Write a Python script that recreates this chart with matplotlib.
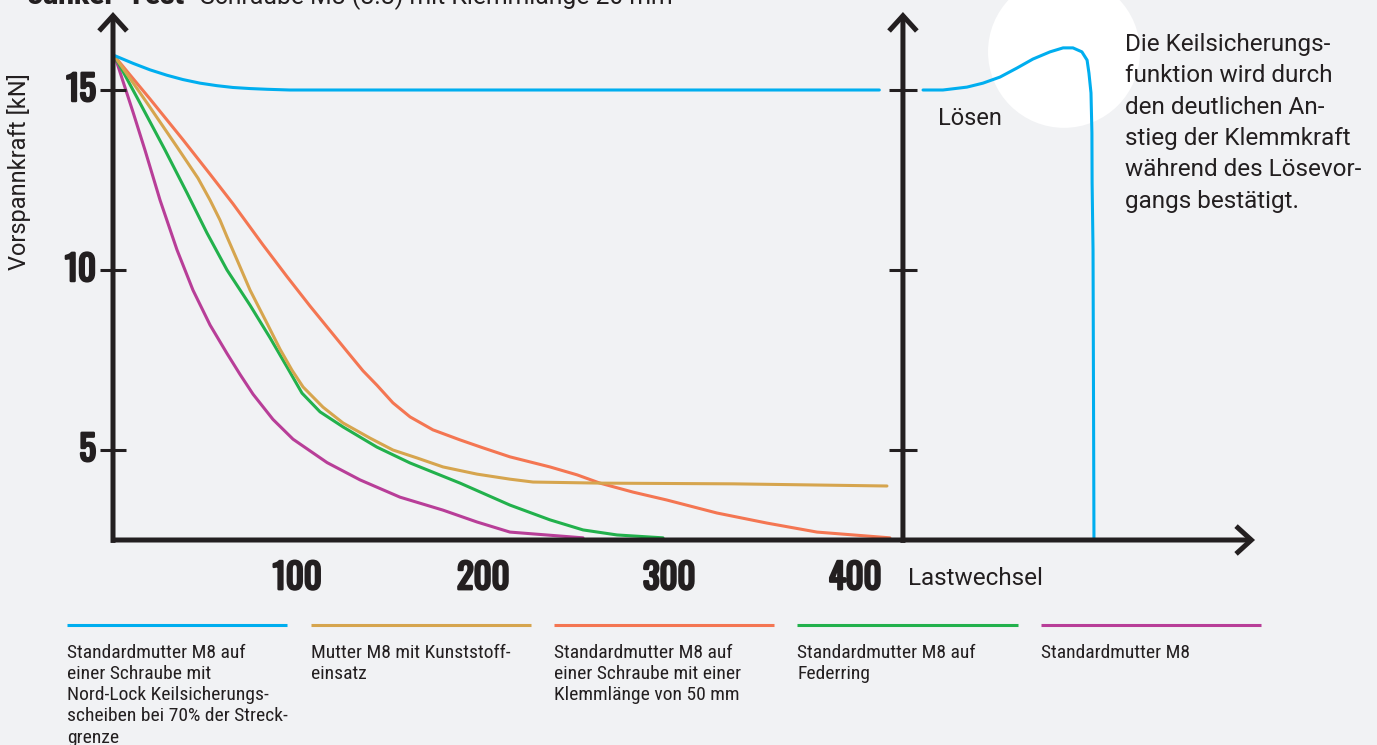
"""Junker-Test: Vorspannkraft über Lastwechsel (Nachbau)."""
import matplotlib
matplotlib.use("Agg")
import matplotlib.pyplot as plt
import matplotlib.patheffects as pe
from matplotlib.patches import Ellipse

# --- data ---
blue_x = [1.1, 10.8, 19.9, 29.0, 37.6, 46.8, 55.9, 64.5, 73.7, 82.8, 95.0, 412]
blue_y = [15.95, 15.74, 15.56, 15.41, 15.29, 15.19, 15.12, 15.07, 15.04, 15.02, 15.0, 15.0]

loosen_x = [435.5, 446.2, 459.1, 467.7, 476.9, 486.0, 494.6, 503.8, 510.8, 516.1,
            520.9, 523.7, 524.7, 525.8, 526.3, 526.4, 526.9, 527.4]
loosen_y = [15.0, 15.0, 15.08, 15.19, 15.36, 15.61, 15.86, 16.06, 16.17, 16.17,
            16.06, 15.83, 15.47, 14.92, 13.81, 12.42, 10.56, 2.5]

gold_x = [1.1, 18.3, 34.4, 45.7, 52.2, 57.5, 61.3, 66.7, 73.7, 82.8, 89.8, 96.2, 102.2,
          112.9, 123.7, 138.2, 150.5, 163.4, 177.4, 195.7, 213.4, 225.8, 261.8, 333.3, 416.1]
gold_y = [15.92, 14.64, 13.42, 12.55, 11.94, 11.39, 10.92, 10.28, 9.44, 8.52, 7.8, 7.22, 6.75,
          6.19, 5.75, 5.33, 5.0, 4.78, 4.53, 4.33, 4.19, 4.11, 4.08, 4.06, 4.0]

coral_x = [1.1, 19.9, 37.6, 52.2, 64.5, 80.6, 93.5, 105.9, 125.8, 134.4, 141.9, 150.5, 159.7,
           172.0, 186.6, 198.9, 213.4, 234.9, 249.5, 261.8, 279.6, 297.8, 324.7, 351.6, 378.5, 417.7]
coral_y = [15.92, 14.75, 13.62, 12.66, 11.84, 10.7, 9.82, 9.0, 7.74, 7.2, 6.8, 6.31, 5.92,
           5.56, 5.28, 5.06, 4.81, 4.53, 4.31, 4.08, 3.83, 3.61, 3.25, 2.97, 2.72, 2.56]

green_x = [1.1, 14.5, 28.0, 39.8, 50.5, 61.3, 73.7, 84.4, 93.5, 101.6, 111.3, 123.7, 141.9,
           159.7, 186.6, 213.4, 234.9, 252.7, 271.0, 295.7]
green_y = [15.92, 14.64, 13.33, 12.14, 11.03, 10.0, 9.02, 8.12, 7.31, 6.58, 6.06, 5.64, 5.08,
           4.64, 4.08, 3.47, 3.06, 2.78, 2.64, 2.56]

magenta_x = [1.1, 10.8, 17.2, 25.3, 34.4, 43.0, 52.2, 61.3, 68.3, 75.3, 86.0, 96.8, 115.1,
             132.8, 154.3, 177.4, 195.7, 213.4, 252.7]
magenta_y = [15.92, 14.38, 13.33, 11.94, 10.56, 9.44, 8.47, 7.68, 7.1, 6.55, 5.85, 5.3, 4.65,
             4.17, 3.69, 3.33, 3.0, 2.72, 2.56]

y_ticks = [5, 10, 15]
x_ticks = [100, 200, 300, 400]

legend_labels = [
    "Standardmutter M8 auf\neiner Schraube mit\nNord-Lock Keilsicherungs-\nscheiben bei 70% der Streck-\ngrenze",
    "Mutter M8 mit Kunststoff-\neinsatz",
    "Standardmutter M8 auf\neiner Schraube mit einer\nKlemmlänge von 50 mm",
    "Standardmutter M8 auf\nFederring",
    "Standardmutter M8",
]

BG = "#f1f2f4"
INK = "#231f20"
C_BLUE = "#00aeef"
C_GOLD = "#d6a54e"
C_CORAL = "#f47652"
C_GREEN = "#22b14c"
C_MAG = "#b83e98"
legend_colors = [C_BLUE, C_GOLD, C_CORAL, C_GREEN, C_MAG]

NUM_FONT = ["Oswald", "Roboto Condensed", "DejaVu Sans"]
TXT_FONT = ["Roboto", "DejaVu Sans"]
LEG_FONT = ["Roboto Condensed", "Roboto", "DejaVu Sans"]
# Oswald is only installed in one weight, so thicken the numbers with a stroke
num_fx = [pe.withStroke(linewidth=1.8, foreground=INK)]

fig = plt.figure(figsize=(13.77, 7.45), dpi=100, facecolor=BG)
ax = fig.add_axes([0, 0, 1, 1])
ax.set_facecolor(BG)
# 1.86 px per Lastwechsel, 36 px per kN; origin (x=0, y=0) at pixel (113, 630)
ax.set_xlim(-113 / 1.86, (1377 - 113) / 1.86)
ax.set_ylim((630 - 745) / 36, 630 / 36)
ax.axis("off")

# white highlight circle behind the loosening curve
ax.add_patch(Ellipse((511.3, 16.06), 152 / 1.86, 152 / 36, color="white", zorder=1, lw=0))

line_kw = dict(lw=2.2, zorder=3, solid_joinstyle="round", solid_capstyle="round")
ax.plot(magenta_x, magenta_y, color=C_MAG, **line_kw)
ax.plot(green_x, green_y, color=C_GREEN, **line_kw)
ax.plot(coral_x, coral_y, color=C_CORAL, **line_kw)
ax.plot(gold_x, gold_y, color=C_GOLD, **line_kw)
ax.plot(blue_x, blue_y, color=C_BLUE, **line_kw)
ax.plot(loosen_x, loosen_y, color=C_BLUE, **line_kw)

# axes with open arrow heads
arrow = dict(arrowstyle="->,head_length=0.55,head_width=0.5", lw=3.6, color=INK,
             mutation_scale=20, shrinkA=0, shrinkB=0, joinstyle="miter", capstyle="butt")
y_top = (630 - 12) / 36
ax.annotate("", xy=(0, y_top), xytext=(0, 2.42), arrowprops=arrow, zorder=5)
ax.annotate("", xy=(424.7, y_top), xytext=(424.7, 2.42), arrowprops=arrow, zorder=5)
ax.annotate("", xy=(614, 2.5), xytext=(-1.0, 2.5), arrowprops=arrow, zorder=5)

for t in y_ticks:
    ax.plot([-7, 7], [t, t], color=INK, lw=2.2, zorder=5, solid_capstyle="butt")
    ax.plot([417, 432], [t, t], color=INK, lw=2.2, zorder=5, solid_capstyle="butt")
    ax.text(-9.2, t, str(t), ha="right", va="center", fontsize=25, fontweight="bold",
            family=NUM_FONT, color=INK, path_effects=num_fx)

for t in x_ticks:
    ax.text(t - 1, 1.44, str(t), ha="center", va="center", fontsize=25, fontweight="bold",
            family=NUM_FONT, color=INK, path_effects=num_fx)

ax.text(427.4, 1.44, "Lastwechsel", ha="left", va="center", fontsize=17.5,
        family=TXT_FONT, color=INK)
ax.text(-50.5, 12.72, "Vorspannkraft [kN]", ha="center", va="center", rotation=90,
        fontsize=17, family=TXT_FONT, color=INK)
ax.text(443.5, 14.22, "Lösen", ha="left", va="center", fontsize=17,
        family=TXT_FONT, color=INK)
ax.text(544, 16.58,
        "Die Keilsicherungs-\nfunktion wird durch\nden deutlichen An-\nstieg der Klemmkraft\n"
        "während des Lösevor-\ngangs bestätigt.",
        ha="left", va="top", fontsize=17.5, linespacing=1.46, family=TXT_FONT, color=INK)

# title, cut off at the top edge as in the reference
ax.text(-45.7, 17.39, "Junker-Test", ha="left", va="baseline", fontsize=20,
        fontweight="heavy", family=TXT_FONT, color=INK)
ax.text(46.8, 17.39, "Schraube M8 (8.8) mit Klemmlänge 20 mm", ha="left", va="baseline",
        fontsize=17.8, family=TXT_FONT, color=INK)

# legend row
for i, (lab, col) in enumerate(zip(legend_labels, legend_colors)):
    x0 = -24.7 + i * 130.9
    ax.plot([x0, x0 + 118.3], [0.14, 0.14], color=col, lw=2.2, solid_capstyle="butt")
    ax.text(x0, -0.38, lab, ha="left", va="top", fontsize=14, linespacing=1.23,
            family=LEG_FONT, color=INK)

fig.savefig("out.png", dpi=100, facecolor=BG)
